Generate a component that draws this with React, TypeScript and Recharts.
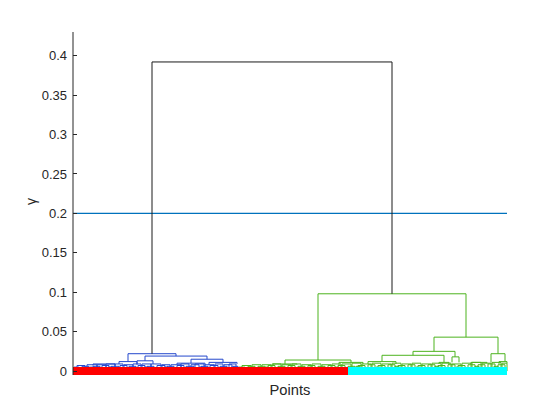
import React from 'react';
import { LineChart, Line, XAxis, YAxis } from 'recharts';

// x is the leaf position along the "Points" axis (0..434), y is the merge distance (gamma)
// link = [xLeft, xRight, yLeftChild, yRightChild, height]
const blackLinks: number[][] = [[79, 319, 0.022, 0.098, 0.392]];

const blueLinks: number[][] = [
  [55, 103, 0.012, 0.019, 0.022],
  [46, 64, 0.009, 0.009, 0.012],
  [72, 134, 0.013, 0.015, 0.019],
  [64, 80, 0.008, 0.009, 0.013],
  [118, 150, 0.01, 0.011, 0.015],
  [104, 132, 0.008, 0.007, 0.01],
  [136, 164, 0.008, 0.009, 0.011],
  [20, 42, 0.007, 0.008, 0.009],
];

const blueGrass: number[][] = [
  [1, 6, 0.005], [4, 12, 0.007], [9, 16, 0.006], [14, 24, 0.008], [20, 27, 0.006],
  [24, 33, 0.008], [29, 36, 0.007], [33, 42, 0.009], [38, 46, 0.006], [42, 50, 0.009],
  [47, 54, 0.007], [51, 60, 0.008], [56, 63, 0.006], [60, 68, 0.009], [65, 72, 0.007],
  [69, 78, 0.009], [74, 81, 0.006], [78, 88, 0.009], [84, 92, 0.007], [89, 97, 0.008],
  [94, 101, 0.006], [98, 108, 0.008], [104, 111, 0.007], [108, 116, 0.009], [113, 121, 0.006],
  [118, 126, 0.008], [122, 131, 0.009], [128, 135, 0.006], [132, 141, 0.008], [137, 145, 0.007],
  [142, 150, 0.009], [147, 154, 0.006], [151, 159, 0.008], [156, 163, 0.009], [160, 165, 0.006],
  [3, 9, 0.004], [17, 22, 0.005], [35, 40, 0.005], [53, 58, 0.004], [71, 76, 0.005],
  [91, 95, 0.005], [110, 115, 0.004], [126, 130, 0.005], [144, 148, 0.004], [158, 162, 0.005],
];

const greenLinks: number[][] = [
  [245, 393, 0.014, 0.043, 0.098],
  [212, 278, 0.009, 0.011, 0.014],
  [361, 425, 0.025, 0.022, 0.043],
  [340, 382, 0.02, 0.018, 0.025],
  [309, 371, 0.012, 0.011, 0.02],
  [295, 323, 0.009, 0.009, 0.012],
  [366, 376, 0.009, 0.008, 0.011],
  [379, 386, 0.011, 0.011, 0.018],
  [418, 432, 0.011, 0.012, 0.022],
  [266, 290, 0.008, 0.009, 0.011],
  [200, 224, 0.007, 0.008, 0.009],
  [426, 434, 0.009, 0.01, 0.012],
  [398, 414, 0.009, 0.01, 0.011],
];

const greenGrass: number[][] = [
  [166, 172, 0.005], [169, 178, 0.007], [175, 182, 0.006], [179, 188, 0.008], [185, 192, 0.006],
  [189, 198, 0.008], [195, 202, 0.007], [199, 208, 0.009], [205, 212, 0.006], [209, 218, 0.008],
  [215, 222, 0.007], [219, 228, 0.009], [225, 232, 0.006], [229, 238, 0.008], [235, 242, 0.007],
  [239, 248, 0.009], [245, 252, 0.006], [249, 258, 0.008], [255, 262, 0.007], [259, 268, 0.009],
  [265, 272, 0.007], [269, 278, 0.009], [275, 282, 0.006], [279, 288, 0.01], [285, 292, 0.007],
  [289, 298, 0.009], [295, 302, 0.008], [299, 308, 0.01], [305, 312, 0.007], [309, 318, 0.009],
  [315, 322, 0.008], [319, 328, 0.01], [325, 332, 0.007], [329, 338, 0.009], [335, 342, 0.008],
  [339, 348, 0.01], [345, 352, 0.007], [349, 358, 0.009], [355, 362, 0.008], [359, 368, 0.01],
  [365, 372, 0.007], [369, 378, 0.01], [375, 382, 0.008], [379, 388, 0.009], [385, 392, 0.007],
  [389, 398, 0.01], [395, 402, 0.008], [399, 408, 0.011], [405, 412, 0.008], [409, 418, 0.01],
  [415, 422, 0.009], [419, 428, 0.011], [425, 432, 0.008], [429, 434, 0.01],
  [171, 175, 0.004], [192, 196, 0.005], [213, 217, 0.004], [236, 240, 0.005], [262, 266, 0.005],
  [283, 287, 0.006], [303, 307, 0.005], [322, 326, 0.006], [343, 347, 0.005], [362, 366, 0.006],
  [383, 387, 0.005], [402, 406, 0.006], [421, 425, 0.006],
];

const groupBoundary = 275;
const pointsMax = 434;
const yTicks = [0, 0.05, 0.1, 0.15, 0.2, 0.25, 0.3, 0.35, 0.4];
const threshold = 0.2;

const AXIS = '#262626';
const FONT = '"Liberation Sans", Arial, Helvetica, sans-serif';

function toPath(links: number[][], grass: number[][] = []) {
  const pts: { x: number; y: number | null }[] = [];
  const all = [...links, ...grass.map(([a, b, h]) => [a, b, 0, 0, h])];
  for (const [xl, xr, yl, yr, h] of all) {
    pts.push({ x: xl, y: yl }, { x: xl, y: h }, { x: xr, y: h }, { x: xr, y: yr }, { x: xr, y: null });
  }
  return pts;
}

const blackData = toPath(blackLinks);
const blueData = toPath(blueLinks, blueGrass);
const greenData = toPath(greenLinks, greenGrass);
const thresholdData = [{ x: 0, y: threshold }, { x: pointsMax, y: threshold }];
const redBar = [{ x: 0, y: 0 }, { x: groupBoundary, y: 0 }];
const cyanBar = [{ x: groupBoundary, y: 0 }, { x: pointsMax, y: 0 }];

const YTick = (props: any) => {
  const { x, y, payload } = props;
  return (
    <g>
      <line x1={x} x2={x + 4} y1={y} y2={y} stroke={AXIS} strokeWidth={1} shapeRendering="crispEdges" />
      <text x={x - 6} y={y} dy="0.36em" textAnchor="end" fill={AXIS} fontSize={13} fontFamily={FONT}>
        {String(payload.value)}
      </text>
    </g>
  );
};

const YLabel = (props: any) => {
  const vb = props.viewBox || {};
  const cx = (vb.x ?? 0) + 32;
  const cy = (vb.y ?? 0) + (vb.height ?? 0) / 2 - 2;
  return (
    <text x={cx} y={cy} transform={`rotate(-90, ${cx}, ${cy})`} textAnchor="middle" dy="0.3em" fill={AXIS} fontSize={14} fontFamily={FONT}>
      γ
    </text>
  );
};

const XLabel = (props: any) => {
  const vb = props.viewBox || {};
  const cx = (vb.x ?? 0) + (vb.width ?? 0) / 2;
  const cy = (vb.y ?? 0) + 19.5;
  return (
    <text x={cx} y={cy} textAnchor="middle" fill={AXIS} fontSize={14.7} fontFamily={FONT}>
      Points
    </text>
  );
};

const lineCommon = {
  dataKey: 'y',
  dot: false,
  activeDot: false,
  isAnimationActive: false,
  connectNulls: false,
} as any;

export default function App() {
  return (
    <div style={{ position: 'absolute', left: 0, top: 0, width: 560, height: 420, background: '#fff' }}>
      <LineChart width={560} height={420} margin={{ top: 32, right: 53, left: 0, bottom: 0 }}>
        <XAxis
          type="number"
          dataKey="x"
          domain={[0, pointsMax]}
          height={45}
          axisLine={false}
          tickLine={false}
          tick={false}
          label={{ content: XLabel } as any}
        />
        <YAxis
          type="number"
          dataKey="y"
          domain={[-0.005, 0.43]}
          ticks={yTicks}
          width={73}
          tickSize={0}
          tickMargin={0}
          tickLine={false}
          axisLine={{ stroke: AXIS }}
          tick={<YTick />}
          interval={0}
          allowDataOverflow
          label={{ content: YLabel } as any}
        />
        <Line {...lineCommon} data={thresholdData} stroke="#0072BD" strokeWidth={1.2} />
        <Line {...lineCommon} data={blueData} stroke="#2448CC" strokeWidth={1} />
        <Line {...lineCommon} data={greenData} stroke="#4DB31F" strokeWidth={1} />
        <Line {...lineCommon} data={blackData} stroke="#1a1a1a" strokeWidth={1} />
        <Line {...lineCommon} data={redBar} stroke="#FF0000" strokeWidth={8} />
        <Line {...lineCommon} data={cyanBar} stroke="#00FFFF" strokeWidth={8} />
      </LineChart>
    </div>
  );
}
